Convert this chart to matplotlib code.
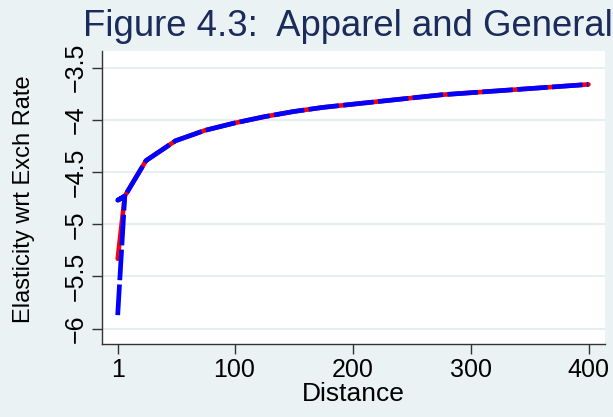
import numpy as np
import matplotlib
matplotlib.use('Agg')
import matplotlib.pyplot as plt

distance = [1, 7, 25, 50, 75, 100, 125, 150, 175, 200, 225, 250, 275, 300, 325, 350, 375, 400]
# red solid curve
elast_red = [-5.33, -4.73, -4.39, -4.20, -4.10, -4.03, -3.97, -3.92, -3.88, -3.85,
             -3.82, -3.79, -3.76, -3.74, -3.72, -3.70, -3.68, -3.66]
# blue dashed curve (drawn in data order, it doubles back near distance 1)
dist_blue = [1, 7, 1, 7] + distance[2:]
elast_blue = [-5.87, -4.73, -4.77, -4.73] + elast_red[2:]

xticks = [1, 100, 200, 300, 400]
yticks = [-6, -5.5, -5, -4.5, -4, -3.5]
ytick_labels = ['\u22126', '\u22125.5', '\u22125', '\u22124.5', '\u22124', '\u22123.5']

plt.rcParams['font.family'] = ['Liberation Sans', 'DejaVu Sans']

bg = '#eaf2f3'
fig = plt.figure(figsize=(6.13, 4.17), dpi=100, facecolor=bg)
ax = fig.add_axes([0.1664, 0.175, 0.8206, 0.7027])
ax.set_facecolor('white')

ax.plot(distance, elast_red, color='#ff0000', lw=3.3, solid_capstyle='round', zorder=3)
ax.plot(dist_blue, elast_blue, color='#0000ff', lw=3.4, linestyle=(0, (6.5, 0.9)),
        dash_capstyle='butt', zorder=4)

ax.set_xlim(-12.3, 414)
ax.set_ylim(-6.147, -3.34)
ax.set_xticks(xticks)
ax.set_yticks(yticks)
ax.set_yticklabels(ytick_labels, rotation=90, va='center')
ax.tick_params(axis='both', direction='out', length=7, width=1, color='#333333',
               labelsize=18, pad=3)

ax.grid(axis='y', color='#e6eef0', lw=1.5, zorder=0)
ax.set_axisbelow(True)
for s in ['top', 'right']:
    ax.spines[s].set_visible(False)
for s in ['left', 'bottom']:
    ax.spines[s].set_color('#333333')
    ax.spines[s].set_linewidth(1)

ax.set_xlabel('Distance', fontsize=19, labelpad=0)
ax.set_ylabel('Elasticity wrt Exch Rate', fontsize=17)
ax.yaxis.set_label_coords(-0.133, 0.495)

fig.text(83 / 613, 1 - 27 / 417, 'Figure 4.3:  Apparel and General', fontsize=26.3,
         color='#1a2b5c', ha='left', va='center')

fig.savefig('out.png', dpi=100, facecolor=bg)
